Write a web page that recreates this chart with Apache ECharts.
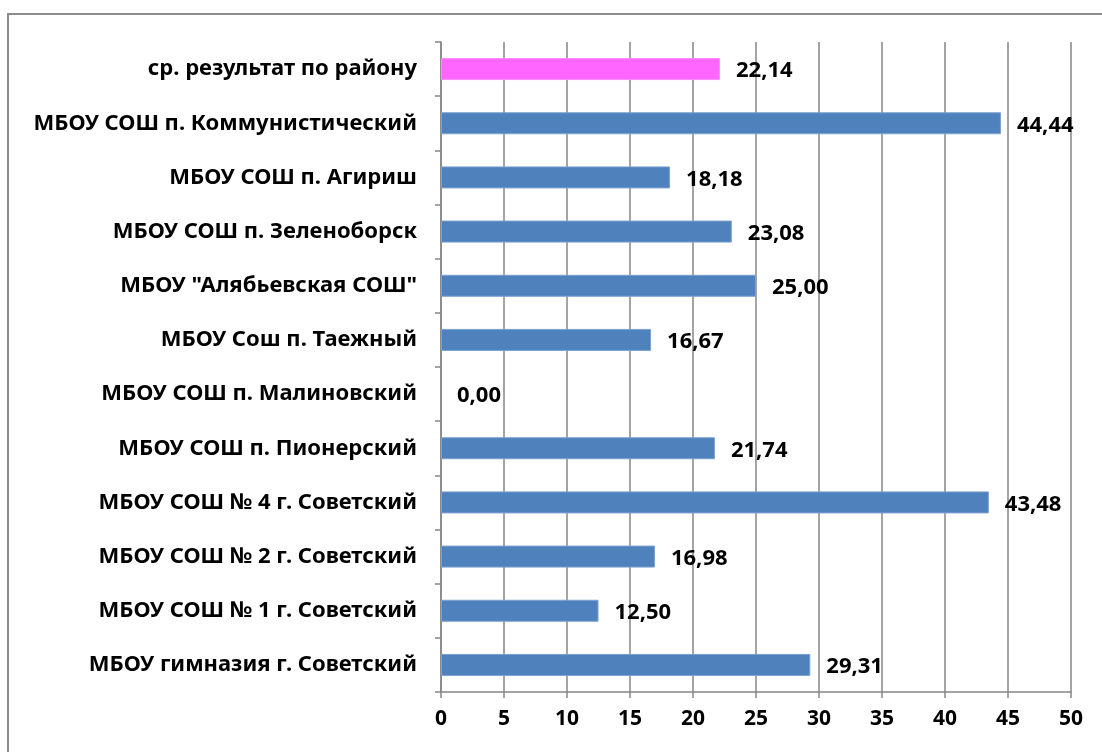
<!DOCTYPE html>
<html>
<head>
<meta charset="utf-8">
<script src="https://cdn.jsdelivr.net/npm/echarts@6/dist/echarts.min.js"></script>
<style>
  html, body { margin: 0; padding: 0; background: #fff; overflow: hidden; }
  .frame {
    position: absolute;
    left: 7px;
    top: 13px;
    width: 1110px;
    height: 760px;
    border: 2px solid #8c8c8c;
    box-sizing: border-box;
  }
  #chart { position: absolute; left: 0; top: 0; width: 1102px; height: 752px; }
</style>
</head>
<body>
<div class="frame"></div>
<div id="chart"></div>
<script>
  // снизу вверх, как в оси категорий
  const schools = [
    'МБОУ гимназия г. Советский',
    'МБОУ СОШ № 1 г. Советский',
    'МБОУ СОШ № 2 г. Советский',
    'МБОУ СОШ № 4 г. Советский',
    'МБОУ СОШ п. Пионерский',
    'МБОУ СОШ п. Малиновский',
    'МБОУ Сош п. Таежный',
    'МБОУ "Алябьевская СОШ"',
    'МБОУ СОШ п. Зеленоборск',
    'МБОУ СОШ п. Агириш',
    'МБОУ СОШ п. Коммунистический',
    'ср. результат по району'
  ]
  const results = [29.31, 12.50, 16.98, 43.48, 21.74, 0.00, 16.67, 25.00, 23.08, 18.18, 44.44, 22.14]
  const avgIndex = 11

  const font = 'Noto Sans'
  const blue = '#4f81bd'
  const pink = '#ff66ff'

  let dom = echarts.init(document.getElementById('chart'))
  let option = {
    animation: false,
    grid: {
      left: 441,
      right: 31,
      top: 42,
      bottom: 60
    },
    xAxis: {
      type: 'value',
      min: 0,
      max: 50,
      interval: 5,
      axisLine: {
        show: true,
        lineStyle: { color: '#868686', width: 1.5 }
      },
      axisTick: {
        show: true,
        length: 6,
        lineStyle: { color: '#868686', width: 1.5 }
      },
      splitLine: {
        show: true,
        lineStyle: { color: '#868686', width: 1.5 }
      },
      axisLabel: {
        margin: 17,
        color: '#000',
        fontFamily: font,
        fontWeight: 'bold',
        fontSize: 21
      }
    },
    yAxis: {
      type: 'category',
      data: schools,
      axisLine: {
        show: true,
        lineStyle: { color: '#868686', width: 1.5 }
      },
      axisTick: {
        show: true,
        length: 6,
        lineStyle: { color: '#868686', width: 1.5 }
      },
      axisLabel: {
        margin: 24,
        color: '#000',
        fontFamily: font,
        fontWeight: 'bold',
        fontSize: 22
      }
    },
    series: [{
      type: 'bar',
      barWidth: 22,
      data: results.map((v, i) => ({
        value: v,
        itemStyle: {
          color: i === avgIndex ? pink : blue,
          borderColor: i === avgIndex ? '#ff8cff' : '#7da0cf',
          borderWidth: v > 0 ? 1 : 0
        }
      })),
      label: {
        show: true,
        position: 'right',
        distance: 16,
        offset: [0, 2],
        color: '#000',
        fontFamily: font,
        fontWeight: 'bold',
        fontSize: 22,
        formatter: (p) => p.value.toFixed(2).replace('.', ',')
      }
    }]
  }
  dom.setOption(option)
</script>
</body>
</html>
